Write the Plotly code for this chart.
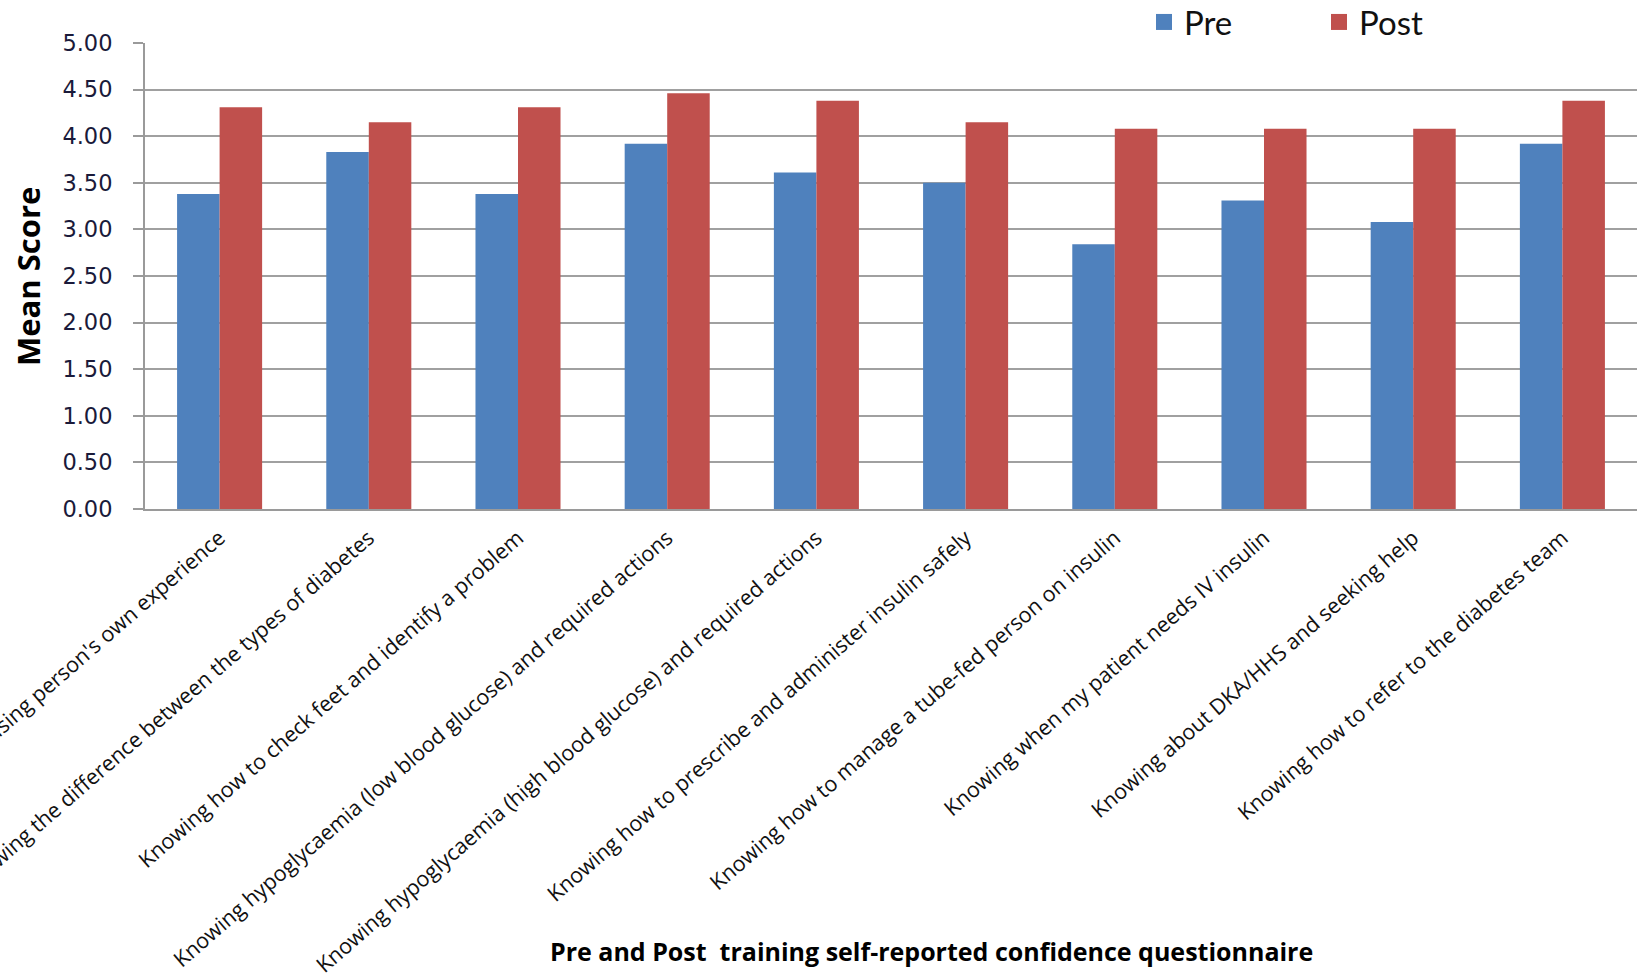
import plotly.graph_objects as go

categories = [
    "Knowing about diabetes using person's own experience",
    "Knowing the difference between the types of diabetes",
    "Knowing how to check feet and identify a problem",
    "Knowing hypoglycaemia (low blood glucose) and required actions",
    "Knowing hypoglycaemia (high blood glucose) and required actions",
    "Knowing how to prescribe and administer insulin safely",
    "Knowing how to manage a tube-fed person on insulin",
    "Knowing when my patient needs IV insulin",
    "Knowing about DKA/HHS and seeking help",
    "Knowing how to refer to the diabetes team",
]
pre_scores = [3.38, 3.83, 3.38, 3.92, 3.61, 3.50, 2.84, 3.31, 3.08, 3.92]
post_scores = [4.31, 4.15, 4.31, 4.46, 4.38, 4.15, 4.08, 4.08, 4.08, 4.38]
y_ticks = [0, 0.5, 1, 1.5, 2, 2.5, 3, 3.5, 4, 4.5, 5]

PRE_COLOR = "#4F81BD"
POST_COLOR = "#C0504D"

W, H = 1640, 977
ML, MR, MT, MB = 145, 3, 43, 468
pw = W - ML - MR
ph = H - MT - MB

def px_x(x):
    return (x - ML) / pw

def px_y(y):
    return (H - MB - y) / ph

fig = go.Figure()
fig.add_trace(go.Bar(x=categories, y=pre_scores, name="Pre", marker_color=PRE_COLOR,
                     marker_line_width=0, showlegend=False, legendgroup="pre"))
fig.add_trace(go.Bar(x=categories, y=post_scores, name="Post", marker_color=POST_COLOR,
                     marker_line_width=0, showlegend=False, legendgroup="post"))
# legend entries
fig.add_trace(go.Scatter(x=[None], y=[None], mode="markers", name="Pre", legendgroup="pre",
                         marker=dict(symbol="square", size=21, color=PRE_COLOR)))
fig.add_trace(go.Scatter(x=[None], y=[None], mode="markers", name="Post", legendgroup="post",
                         marker=dict(symbol="square", size=21, color=POST_COLOR)))

fig.update_layout(
    width=W, height=H,
    margin=dict(l=ML, r=MR, t=MT, b=MB, autoexpand=False),
    paper_bgcolor="white", plot_bgcolor="white",
    barmode="group", bargap=0.43, bargroupgap=0,
    font=dict(family="Open Sans", color="#222"),
    legend=dict(orientation="h", x=px_x(1144), y=px_y(-6), xanchor="left", yanchor="top",
                font=dict(family="Lato", size=33, color="#111"),
                entrywidth=130, entrywidthmode="pixels", itemsizing="trace",
                bgcolor="rgba(0,0,0,0)"),
    xaxis=dict(
        type="category", automargin=False, tickangle=-41,
        tickfont=dict(family="Open Sans", size=21.5, color="#111"),
        showline=True, linecolor="#9a9a9a", linewidth=2,
        ticks="", showgrid=False, ticklabelstandoff=6,
    ),
    yaxis=dict(
        range=[0, 5], tickvals=y_ticks, tickformat=".2f", automargin=False,
        tickfont=dict(family="DejaVu Sans", size=22.5, color="#1a1a3a"),
        showline=True, linecolor="#9a9a9a", linewidth=2,
        ticks="outside", ticklen=10, tickwidth=2, tickcolor="#9a9a9a",
        ticklabelstandoff=16,
        showgrid=True, gridcolor="#a0a0a0", gridwidth=2, zeroline=False,
    ),
)

fig.add_annotation(text="<b>Mean Score</b>", textangle=-90, xref="paper", yref="paper",
                   x=px_x(28), y=px_y(277), xanchor="center", yanchor="middle", showarrow=False,
                   font=dict(family="Open Sans", size=31, color="#000"))
fig.add_annotation(text="<b>Pre and Post  training self-reported confidence questionnaire</b>",
                   xref="paper", yref="paper", x=px_x(931), y=px_y(951),
                   xanchor="center", yanchor="middle", showarrow=False,
                   font=dict(family="Open Sans", size=25, color="#000"))

fig.write_html("out.html")
